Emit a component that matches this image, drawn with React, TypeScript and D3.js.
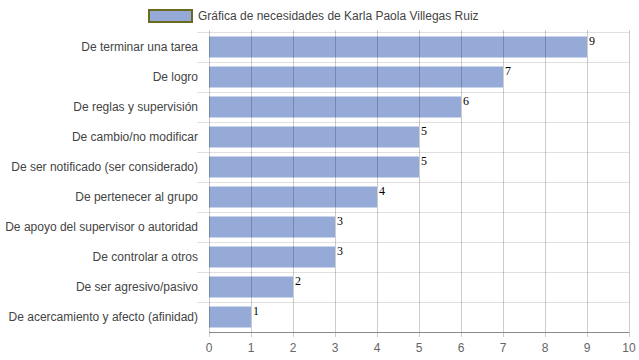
import React, { useEffect, useRef } from "react";
import * as d3 from "d3";

const categories = [
  "De terminar una tarea",
  "De logro",
  "De reglas y supervisión",
  "De cambio/no modificar",
  "De ser notificado (ser considerado)",
  "De pertenecer al grupo",
  "De apoyo del supervisor o autoridad",
  "De controlar a otros",
  "De ser agresivo/pasivo",
  "De acercamiento y afecto (afinidad)",
];
const values = [9, 7, 6, 5, 5, 4, 3, 3, 2, 1];
const xTicks = [0, 1, 2, 3, 4, 5, 6, 7, 8, 9, 10];
const seriesName = "Gráfica de necesidades de Karla Paola Villegas Ruiz";

const W = 639;
const H = 360;
const margin = { left: 209, right: 10, top: 32, bottom: 28 };

export default function App() {
  const ref = useRef<SVGSVGElement>(null);
  useEffect(() => {
    const svg = d3.select(ref.current);
    svg.selectAll("*").remove();
    const x = d3.scaleLinear().domain([0, 10]).range([margin.left, W - margin.right]);
    const y = d3
      .scaleBand<string>()
      .domain(categories)
      .range([margin.top, H - margin.bottom])
      .paddingInner(0.3)
      .paddingOuter(0.15);
    const step = y.step();
    const font = "Arial, 'Liberation Sans', sans-serif";

    // horizontal gridlines (category boundaries)
    const boundaries = d3.range(categories.length).map((i) => margin.top + i * step);
    svg
      .append("g")
      .selectAll("line")
      .data(boundaries)
      .join("line")
      .attr("x1", margin.left - 12)
      .attr("x2", W - margin.right)
      .attr("y1", (d) => Math.round(d) + 0.5)
      .attr("y2", (d) => Math.round(d) + 0.5)
      .attr("stroke", "#e0e0e0");

    // bars
    svg
      .append("g")
      .selectAll("rect")
      .data(values)
      .join("rect")
      .attr("x", x(0))
      .attr("y", (_, i) => y(categories[i])!)
      .attr("width", (d) => x(d) - x(0))
      .attr("height", y.bandwidth())
      .attr("fill", "#95aad6");

    // vertical gridlines
    svg
      .append("g")
      .selectAll("line")
      .data(xTicks)
      .join("line")
      .attr("x1", (d) => Math.round(x(d)) + 0.5)
      .attr("x2", (d) => Math.round(x(d)) + 0.5)
      .attr("y1", margin.top - 2)
      .attr("y2", H - margin.bottom + 5)
      .attr("stroke", "rgba(0,0,0,0.2)");

    // bottom axis line
    svg
      .append("line")
      .attr("x1", x(0))
      .attr("x2", x(10))
      .attr("y1", H - margin.bottom + 0.5)
      .attr("y2", H - margin.bottom + 0.5)
      .attr("stroke", "#888");

    // x tick labels
    svg
      .append("g")
      .selectAll("text")
      .data(xTicks)
      .join("text")
      .attr("x", (d) => x(d))
      .attr("y", H - margin.bottom + 20)
      .attr("text-anchor", "middle")
      .attr("font-family", font)
      .attr("font-size", 12)
      .attr("fill", "#666")
      .text((d) => d);

    // category labels
    svg
      .append("g")
      .selectAll("text")
      .data(categories)
      .join("text")
      .attr("x", margin.left - 11)
      .attr("y", (d) => y(d)! + y.bandwidth() / 2 + 4)
      .attr("text-anchor", "end")
      .attr("font-family", font)
      .attr("font-size", 12)
      .attr("fill", "#444")
      .text((d) => d);

    // value labels
    svg
      .append("g")
      .selectAll("text")
      .data(values)
      .join("text")
      .attr("x", (d) => x(d) + 2)
      .attr("y", (_, i) => y(categories[i])! + 8)
      .attr("font-family", "'Liberation Serif', 'Times New Roman', serif")
      .attr("font-size", 12)
      .attr("fill", "#000")
      .text((d) => d);

    // legend
    const lg = svg.append("g");
    lg.append("rect")
      .attr("x", 149)
      .attr("y", 10)
      .attr("width", 43)
      .attr("height", 12)
      .attr("fill", "#95aad6")
      .attr("stroke", "#6b6b1f")
      .attr("stroke-width", 2);
    lg.append("text")
      .attr("x", 198)
      .attr("y", 20)
      .attr("font-family", font)
      .attr("font-size", 12)
      .attr("fill", "#444")
      .text(seriesName);
  }, []);
  return (
    <svg
      ref={ref}
      width={W}
      height={H}
      style={{ position: "absolute", left: 0, top: 0, background: "#fff" }}
    />
  );
}
